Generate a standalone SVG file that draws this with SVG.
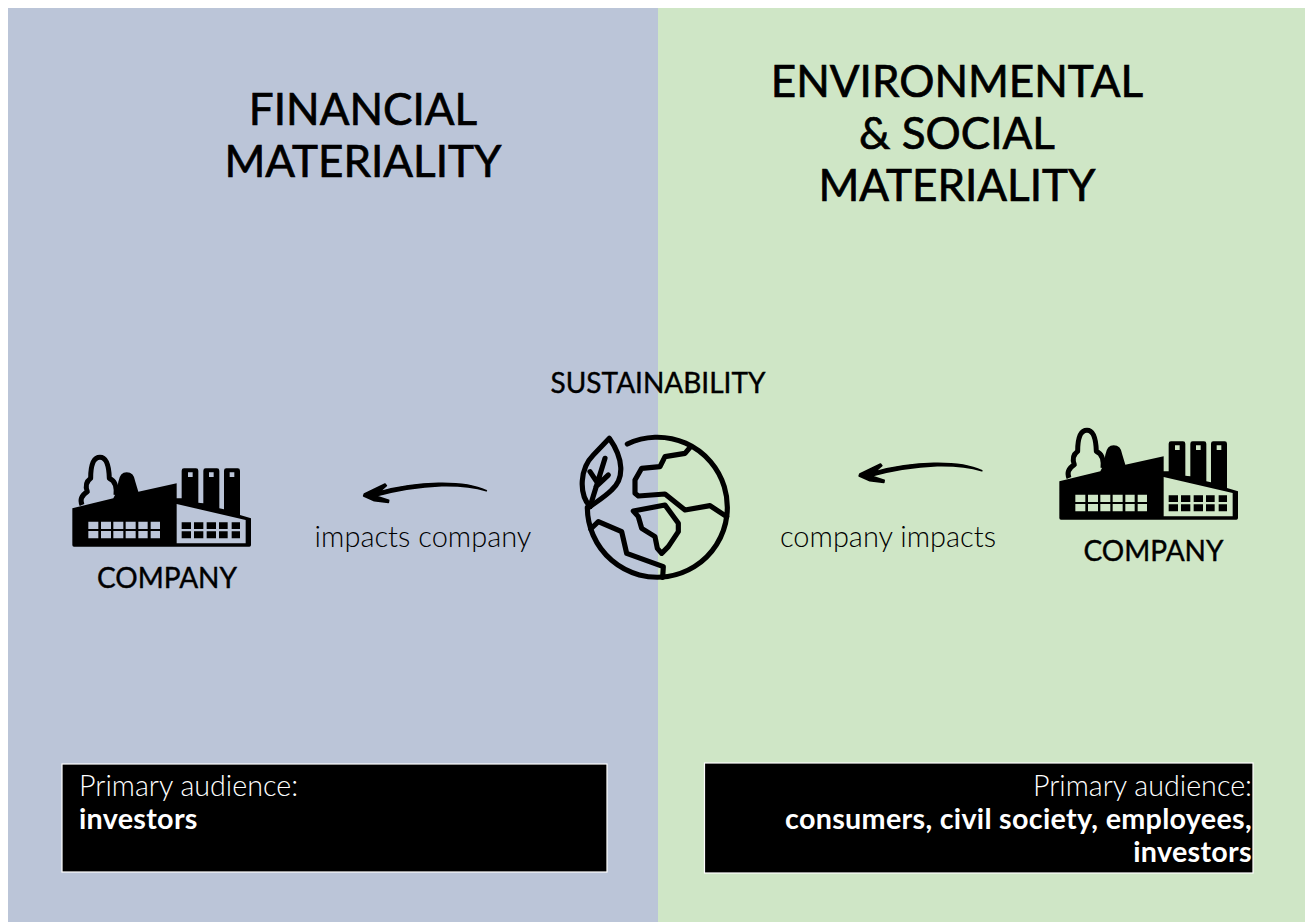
<svg xmlns="http://www.w3.org/2000/svg" width="1305" height="922" viewBox="0 0 1305 922">
<style>
text{font-family:"Lato","Noto Sans","Liberation Sans",sans-serif;fill:#000}
.t{font-size:44px;text-anchor:middle;stroke:#000;stroke-width:.7}
.c{font-size:28px;text-anchor:middle;stroke:#000;stroke-width:.4}
.l{font-size:29px;font-weight:300;text-anchor:middle}
.p{font-size:28.700px;font-weight:300;fill:#fff}
.b{font-size:28.700px;font-weight:700;fill:#fff;letter-spacing:.3px}
.e{text-anchor:end}
.box{fill:#000;stroke:#fff;stroke-width:1.2}
.g{fill:none;stroke:#000;stroke-width:15.500;stroke-linecap:round;stroke-linejoin:round}
.tree{fill:none;stroke:#000;stroke-width:15;stroke-linejoin:round}
.a{stroke:#000;stroke-width:5;stroke-linejoin:round}
</style>
<defs>
<g id="factory">
<path fill-rule="evenodd" d="M37 205L160 175L170 155L175 125Q180 97 200 97Q222 97 226 125L235 155L350 130L350 175L365 175L365 92Q365 85 372 85L408 85Q415 85 415 92L415 188L430 190L430 92Q430 85 437 85L471 85Q478 85 478 92L478 205L492 208L492 92Q492 85 499 85L533 85Q540 85 540 92L540 225L573 235L573 315Q573 320 568 320L42 320Q37 320 37 315Z
M350 192L557 240L557 310L350 310Z
M85 245H115V267H85ZM123 245H153V267H123ZM160 245H190V267H160ZM197 245H227V267H197ZM235 245H263V267H235ZM272 245H300V267H272Z
M85 273H115V295H85ZM123 273H153V295H123ZM160 273H190V295H160ZM197 273H227V295H197ZM235 273H263V295H235ZM272 273H300V295H272Z
M384 97H398V111H384ZM447 97H461V111H447ZM509 97H523V111H509Z"/>
<path d="M365 247H393V267H365ZM402 247H430V267H402ZM440 247H468V267H440ZM477 247H503V267H477ZM515 247H540V267H515ZM365 274H393V295H365ZM402 274H430V295H402ZM440 274H468V295H440ZM477 274H503V295H477ZM515 274H540V295H515Z"/>
<path class="tree" d="M66 195Q56 172 82 155Q72 130 92 115Q92 52 120 52Q146 52 148 115Q172 125 168 165"/>
</g>
<path id="arrow" class="a" d="M424 62C385 44 335 39 280 40C215 41 155 51 102 66L124 47L120 42L58 72L56 78L88 92L130 97L131 91L92 78C150 62 220 50 290 47C340 46 385 50 424 62Z"/>
</defs>
<rect width="1305" height="922" fill="#fff"/>
<rect x="8" y="8" width="650" height="914" fill="#bbc5d8"/>
<rect x="658" y="8" width="647" height="914" fill="#cfe6c6"/>
<g id="title-financial"><text class="t" x="363" y="124.500">FINANCIAL</text><text class="t" x="363" y="176.500">MATERIALITY</text></g>
<g id="title-environmental"><text class="t" x="957" y="96.500">ENVIRONMENTAL</text><text class="t" x="957" y="148.500">&amp; SOCIAL</text><text class="t" x="957" y="200.500">MATERIALITY</text></g>
<g id="sustainability">
<text class="c" x="658" y="393">SUSTAINABILITY</text>
<g transform="translate(570 425) scale(.33333)">
<path class="g" d="M172 57A210 210 0 1 1 52 247"/>
<path class="g" d="M362 65L345 85L285 95L270 125L215 130L195 165L195 205L205 213L285 207L345 255L420 242L470 275"/>
<path class="g" d="M190 258L285 240L325 295L325 320L295 365L275 385L262 370L255 335L215 310L205 275Z"/>
<path class="g" d="M62 312L85 290L155 320L170 385L280 425L278 457"/>
<path class="g" d="M60 245C25 205 30 130 70 90L118 40C160 100 165 160 125 195C105 215 80 230 60 245Z"/>
<path class="g" d="M60 245L105 100M60 140L80 170M115 150L78 185"/>
</g>
</g>
<g id="company-left"><use href="#factory" transform="translate(60 440) scale(.33333)"/><text class="c" x="167" y="588">COMPANY</text></g>
<g id="company-right"><use href="#factory" transform="translate(1047 413) scale(.33333)"/><text class="c" x="1153.500" y="561">COMPANY</text></g>
<g id="connectors">
<use href="#arrow" transform="translate(345 470) scale(.33333)"/>
<use href="#arrow" transform="translate(840.500 450) scale(.33333)"/>
</g>
<text class="l" x="423" y="546.500">impacts company</text>
<text class="l" x="888" y="546.500">company impacts</text>
<g id="audience-left"><rect class="box" x="62" y="764" width="545" height="108"/><text class="p" x="79" y="796">Primary audience:</text><text class="b" x="79" y="829">investors</text></g>
<g id="audience-right"><rect class="box" x="704.500" y="763" width="548.500" height="110"/><text class="p e" x="1252" y="796">Primary audience:</text><text class="b e" x="1252" y="829" letter-spacing=".8">consumers, civil society, employees,</text><text class="b e" x="1252" y="862">investors</text></g>
</svg>
